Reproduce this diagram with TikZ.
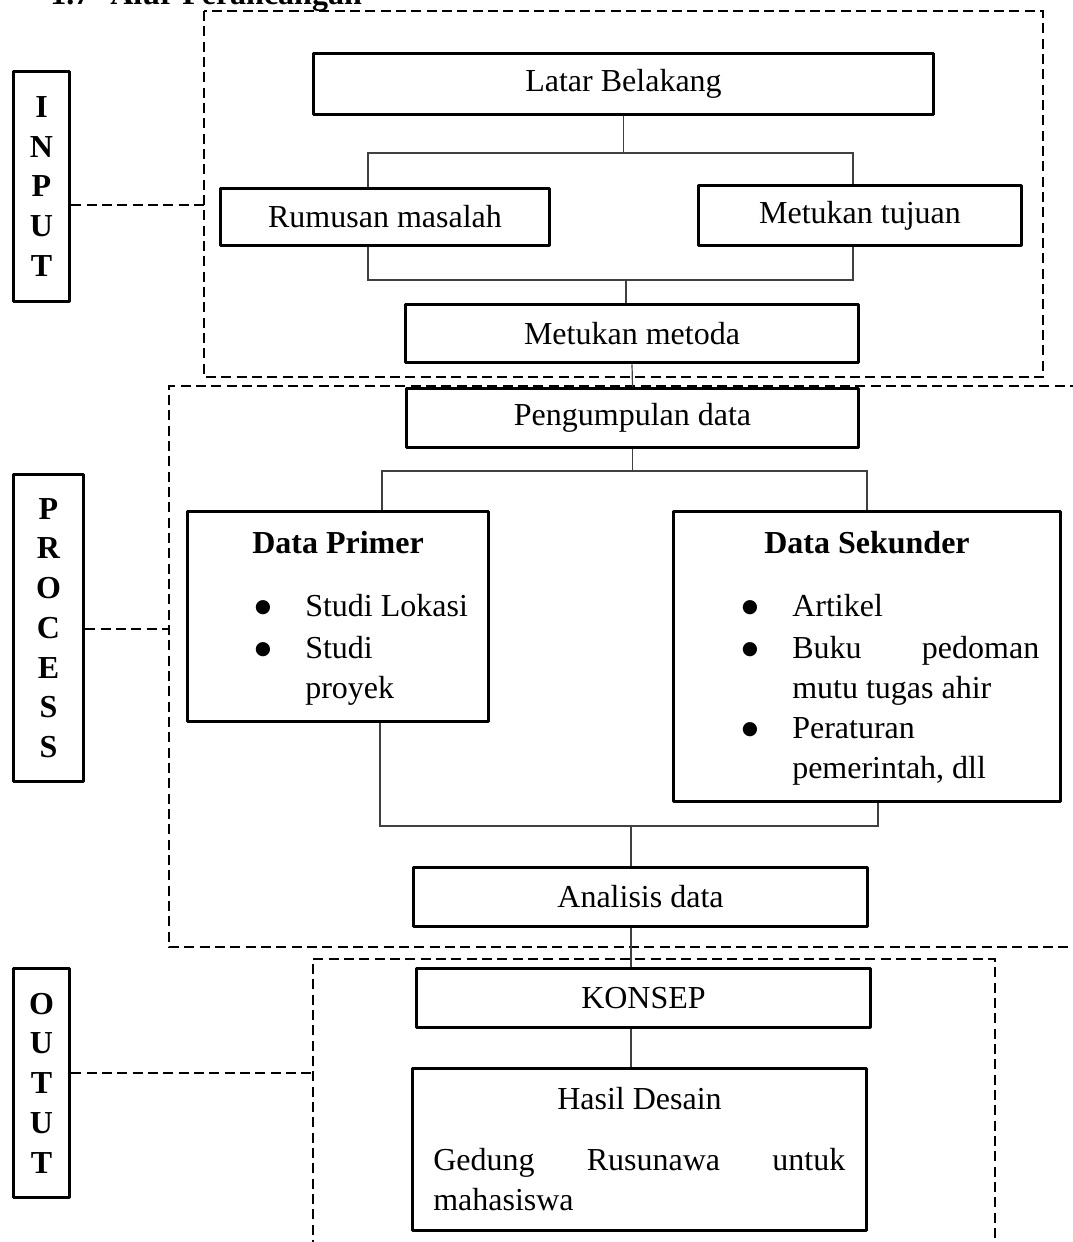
\documentclass[tikz,border=0pt]{standalone}
\usepackage{fontspec}
\setmainfont{Liberation Serif}
\newfontfamily\symfont{DejaVu Sans}
\tikzset{
  box/.style={draw, line width=2.7pt, line join=round, inner sep=0pt, align=center, fill=white},
  sz/.style 2 args={minimum width=#1*0.75pt, minimum height=#2*0.75pt},
  conn/.style={line width=0.9pt, draw=black!75},
  frame/.style={line width=1.4pt, dash pattern=on 7.5pt off 4pt},
  lead/.style={line width=1.1pt, dash pattern=on 7.5pt off 4pt},
  txt/.style={inner sep=0pt},
  bul/.style={inner sep=0pt, anchor=center, font=\symfont\fontsize{14}{14}\selectfont},
  lbl/.style={box, font=\fontsize{24}{29.8}\selectfont\bfseries}
}
\begin{document}
\fontsize{24}{30.5}\selectfont
\begin{tikzpicture}[x=0.75pt,y=-0.75pt]
\useasboundingbox (0,0) rectangle (1073,1242);

% title (cut at the top edge)
\node[txt, anchor=base west, font=\bfseries] (title) at (50,4) {1.7\hspace{15pt}Alur Perancangan};

% dashed frames
\draw[frame] (204,11) rectangle (1043,377);
\draw[frame] (1080,386) -- (169,386) -- (169,947) -- (1080,947);
\draw[frame] (313,1250) -- (313,959) -- (995,959) -- (995,1250);

% side labels
\node[lbl, sz={56}{230}] (inputlbl) at (41.5,186.5) {I\\N\\P\\U\\T};
\node[lbl, sz={70}{307}] (processlbl) at (48.5,628) {P\\R\\O\\C\\E\\S\\S};
\node[lbl, sz={56}{229}] (outputlbl) at (41.5,1083) {O\\U\\T\\U\\T};

\coordinate (inF) at (204,205);
\coordinate (prF) at (169,629);
\coordinate (ouF) at (313,1073);
\draw[lead] (inputlbl.east |- inF) -- (inF);
\draw[lead] (processlbl.east |- prF) -- (prF);
\draw[lead] (outputlbl.east |- ouF) -- (ouF);

% boxes
\node[box, sz={620}{61}] (latar) at (623.5,84) {Latar Belakang};
\node[box, sz={329}{57}] (rumusan) at (385,217) {Rumusan masalah};
\node[box, sz={323}{60}] (tujuan) at (860,215.5) {Metukan tujuan};
\node[box, sz={453}{58}] (metoda) at (632,333.5) {Metukan metoda};
\node[box, sz={452}{59}] (pengumpulan) at (632.5,418) {Pengumpulan data};
\node[box, sz={301}{210}] (primer) at (338,616.5) {};
\node[box, sz={387}{290}] (sekunder) at (867,656.5) {};
\node[box, sz={454}{59}] (analisis) at (640.5,897) {Analisis data};
\node[box, sz={454}{59}] (konsep) at (643.5,998) {KONSEP};
\node[box, sz={454}{162}] (hasil) at (639.5,1149.5) {};

% Data Primer text
\node[txt, anchor=base, font=\bfseries] (dp) at (338,553) {Data Primer};
\node[bul] (dpb1) at (263,607.5) {●};
\node[txt, anchor=base west] (dp1) at (305,616) {Studi Lokasi};
\node[bul] (dpb2) at (263,649.5) {●};
\node[txt, anchor=base west] (dp2) at (305,658) {Studi};
\node[txt, anchor=base west] (dp3) at (305,698) {proyek};

% Data Sekunder text
\node[txt, anchor=base, font=\bfseries] (ds) at (867,553) {Data Sekunder};
\node[bul] (dsb1) at (750,607.5) {●};
\node[txt, anchor=base west] (ds1) at (792,616) {Artikel};
\node[bul] (dsb2) at (750,649.5) {●};
\node[txt, anchor=base west] (ds2) at (792,658) {\makebox[185.25pt][l]{Buku\hfill pedoman}};
\node[txt, anchor=base west] (ds3) at (792,698) {mutu tugas ahir};
\node[bul] (dsb3) at (750,730) {●};
\node[txt, anchor=base west] (ds4) at (792,738) {Peraturan};
\node[txt, anchor=base west] (ds5) at (792,778) {pemerintah, dll};

% Hasil Desain text
\node[txt, anchor=base] (hd) at (639.5,1109) {Hasil Desain};
\node[txt, anchor=base west] (hd1) at (433,1170) {\makebox[309pt][l]{Gedung\hfill Rusunawa\hfill untuk}};
\node[txt, anchor=base west] (hd2) at (433,1210) {mahasiswa};

% connectors
\coordinate (b1) at (368,153);
\coordinate (b2) at (853,153);
\draw[conn] (latar.south) -- (latar.south |- b1);
\draw[conn] (rumusan.north -| b1) -- (b1) -- (b2) -- (tujuan.north -| b2);
\coordinate (b3) at (368,280);
\coordinate (b4) at (853,280);
\draw[conn] (rumusan.south -| b3) -- (b3) -- (b4) -- (tujuan.south -| b4);
\coordinate (b5) at (626,280);
\draw[conn] (b5) -- (metoda.north -| b5);
\draw[conn] (metoda.south) -- (pengumpulan.north);
\coordinate (b6) at (382,471);
\coordinate (b7) at (867,471);
\draw[conn] (pengumpulan.south) -- (pengumpulan.south |- b6);
\draw[conn] (primer.north -| b6) -- (b6) -- (b7) -- (sekunder.north -| b7);
\coordinate (b8) at (380,826);
\coordinate (b9) at (878,826);
\draw[conn] (primer.south -| b8) -- (b8) -- (b9) -- (sekunder.south -| b9);
\coordinate (b10) at (631,826);
\draw[conn] (b10) -- (analisis.north -| b10);
\draw[conn] (analisis.south -| b10) -- (konsep.north -| b10);
\draw[conn] (konsep.south -| b10) -- (hasil.north -| b10);
\end{tikzpicture}
\end{document}
